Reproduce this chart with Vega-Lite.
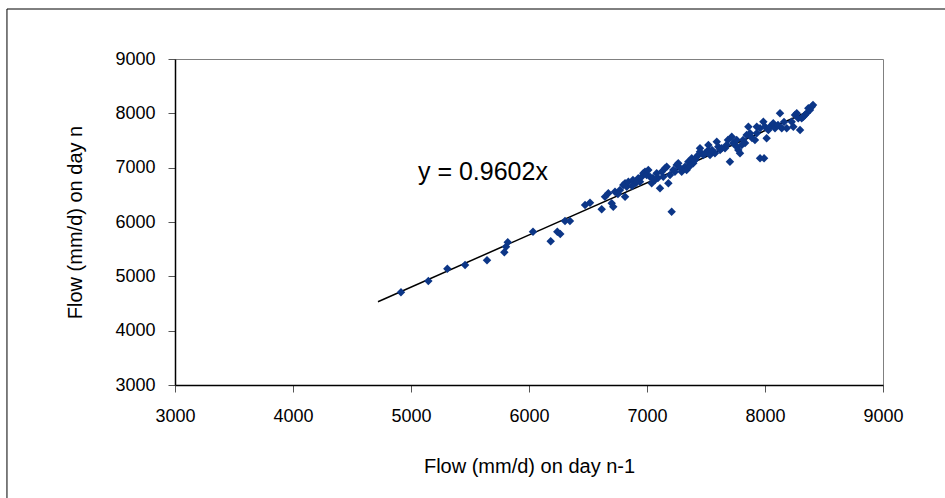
{
  "$schema": "https://vega.github.io/schema/vega-lite/v6.json",
  "width": 708,
  "height": 326,
  "autosize": "none",
  "padding": {"left": 175, "top": 59, "right": 62, "bottom": 113},
  "background": "white",
  "config": {
    "font": "Liberation Sans",
    "view": {"stroke": "#808080", "strokeWidth": 1},
    "axis": {
      "grid": false,
      "domainColor": "black",
      "domainWidth": 1.5,
      "tickColor": "#555555",
      "tickSize": 7,
      "labelFont": "Liberation Sans",
      "labelFontSize": 18,
      "labelColor": "black",
      "labelFlush": false,
      "titleFont": "Liberation Sans",
      "titleFontSize": 20,
      "titleFontWeight": "normal",
      "titleColor": "black"
    }
  },
  "datasets": {
    "obs": [
      {"prev": 4915, "curr": 4706}, {"prev": 5147, "curr": 4914}, {"prev": 5308, "curr": 5141}, {"prev": 5458, "curr": 5209},
      {"prev": 5644, "curr": 5295}, {"prev": 5791, "curr": 5442}, {"prev": 5805, "curr": 5545}, {"prev": 5820, "curr": 5626},
      {"prev": 6034, "curr": 5822}, {"prev": 6184, "curr": 5645}, {"prev": 6240, "curr": 5822}, {"prev": 6265, "curr": 5779},
      {"prev": 6305, "curr": 6018}, {"prev": 6347, "curr": 6018}, {"prev": 6475, "curr": 6313}, {"prev": 6517, "curr": 6355},
      {"prev": 6616, "curr": 6234}, {"prev": 6644, "curr": 6466}, {"prev": 6672, "curr": 6528}, {"prev": 6701, "curr": 6344},
      {"prev": 6714, "curr": 6282}, {"prev": 6729, "curr": 6558}, {"prev": 6771, "curr": 6589}, {"prev": 6799, "curr": 6681},
      {"prev": 6814, "curr": 6712}, {"prev": 6828, "curr": 6650}, {"prev": 6814, "curr": 6466}, {"prev": 6842, "curr": 6742},
      {"prev": 6926, "curr": 6804}, {"prev": 6941, "curr": 6742}, {"prev": 6955, "curr": 6834}, {"prev": 6969, "curr": 6896},
      {"prev": 6983, "curr": 6926}, {"prev": 6997, "curr": 6865}, {"prev": 7011, "curr": 6957}, {"prev": 7025, "curr": 6834},
      {"prev": 7040, "curr": 6712}, {"prev": 7068, "curr": 6773}, {"prev": 7082, "curr": 6896}, {"prev": 7110, "curr": 6620},
      {"prev": 7125, "curr": 6926}, {"prev": 7138, "curr": 6834}, {"prev": 7153, "curr": 6988}, {"prev": 7167, "curr": 7018},
      {"prev": 7181, "curr": 6712}, {"prev": 7195, "curr": 6865}, {"prev": 7209, "curr": 6190}, {"prev": 7237, "curr": 6926},
      {"prev": 7252, "curr": 7049}, {"prev": 7265, "curr": 7080}, {"prev": 7223, "curr": 6957}, {"prev": 7294, "curr": 6926},
      {"prev": 7322, "curr": 7018}, {"prev": 7336, "curr": 6957}, {"prev": 7350, "curr": 7110}, {"prev": 7379, "curr": 7172},
      {"prev": 7392, "curr": 7080}, {"prev": 7421, "curr": 7202}, {"prev": 7435, "curr": 7233}, {"prev": 7449, "curr": 7294},
      {"prev": 7449, "curr": 7356}, {"prev": 7477, "curr": 7233}, {"prev": 7492, "curr": 7264}, {"prev": 7520, "curr": 7417},
      {"prev": 7520, "curr": 7325}, {"prev": 7534, "curr": 7233}, {"prev": 7576, "curr": 7264}, {"prev": 7591, "curr": 7478},
      {"prev": 7604, "curr": 7386}, {"prev": 7619, "curr": 7325}, {"prev": 7633, "curr": 7356}, {"prev": 7661, "curr": 7356},
      {"prev": 7675, "curr": 7417}, {"prev": 7703, "curr": 7110}, {"prev": 7718, "curr": 7570}, {"prev": 7731, "curr": 7449},
      {"prev": 7760, "curr": 7386}, {"prev": 7760, "curr": 7509}, {"prev": 7774, "curr": 7325}, {"prev": 7788, "curr": 7264},
      {"prev": 7803, "curr": 7417}, {"prev": 7845, "curr": 7601}, {"prev": 7859, "curr": 7754}, {"prev": 7873, "curr": 7633},
      {"prev": 7915, "curr": 7509}, {"prev": 7930, "curr": 7754}, {"prev": 7930, "curr": 7633}, {"prev": 7958, "curr": 7724},
      {"prev": 7958, "curr": 7172}, {"prev": 7992, "curr": 7172}, {"prev": 7986, "curr": 7846}, {"prev": 8000, "curr": 7754},
      {"prev": 8014, "curr": 7541}, {"prev": 8028, "curr": 7693}, {"prev": 8042, "curr": 7754}, {"prev": 8070, "curr": 7817},
      {"prev": 8085, "curr": 7724}, {"prev": 8127, "curr": 8001}, {"prev": 8142, "curr": 7724}, {"prev": 8184, "curr": 7724},
      {"prev": 8226, "curr": 7846}, {"prev": 8240, "curr": 7754}, {"prev": 8254, "curr": 7969}, {"prev": 8269, "curr": 8001},
      {"prev": 8282, "curr": 7909}, {"prev": 8297, "curr": 7693}, {"prev": 8311, "curr": 7909}, {"prev": 8325, "curr": 7938},
      {"prev": 8339, "curr": 7969}, {"prev": 8353, "curr": 8001}, {"prev": 8367, "curr": 8093}, {"prev": 8381, "curr": 8061},
      {"prev": 8396, "curr": 8122}, {"prev": 8407, "curr": 8153}, {"prev": 6881, "curr": 6773}, {"prev": 6907, "curr": 6718},
      {"prev": 7093, "curr": 6810}, {"prev": 7280, "curr": 6994}, {"prev": 7364, "curr": 7031}, {"prev": 7551, "curr": 7325},
      {"prev": 7686, "curr": 7509}, {"prev": 7814, "curr": 7509}, {"prev": 7890, "curr": 7546}, {"prev": 7831, "curr": 7454},
      {"prev": 8110, "curr": 7785}, {"prev": 8161, "curr": 7841}, {"prev": 6754, "curr": 6515}, {"prev": 6873, "curr": 6663},
      {"prev": 7051, "curr": 6810}, {"prev": 7407, "curr": 7141}
    ],
    "trend": [
      {"prev": 4720, "curr": 4532},
      {"prev": 8400, "curr": 8066}
    ]
  },
  "layer": [
    {
      "data": {"values": [{}]},
      "mark": {"type": "rect", "filled": false, "stroke": "black", "strokeWidth": 1, "clip": false},
      "encoding": {
        "x": {"datum": 1576, "type": "quantitative", "scale": {"domain": [3000, 9000], "nice": false, "zero": false}},
        "x2": {"datum": 12000},
        "y": {"datum": 9920, "type": "quantitative", "scale": {"domain": [3000, 9000], "nice": false, "zero": false}},
        "y2": {"datum": -1000}
      }
    },
    {
      "data": {"name": "trend"},
      "mark": {"type": "line", "color": "black", "strokeWidth": 1.5},
      "encoding": {
        "x": {"field": "prev", "type": "quantitative"},
        "y": {"field": "curr", "type": "quantitative"}
      }
    },
    {
      "data": {"name": "obs"},
      "mark": {"type": "point", "shape": "diamond", "filled": true, "size": 72, "opacity": 1, "color": "#0c3687"},
      "encoding": {
        "x": {
          "field": "prev", "type": "quantitative",
          "axis": {"title": "Flow (mm/d) on day n-1", "values": [3000, 4000, 5000, 6000, 7000, 8000, 9000], "labelPadding": 15, "titlePadding": 31, "format": "d"}
        },
        "y": {
          "field": "curr", "type": "quantitative",
          "axis": {"title": "Flow (mm/d) on day n", "values": [3000, 4000, 5000, 6000, 7000, 8000, 9000], "labelPadding": 13, "titlePadding": 29, "format": "d"}
        }
      }
    },
    {
      "data": {"values": [{}]},
      "mark": {"type": "text", "text": "y = 0.9602x", "align": "left", "baseline": "middle", "fontSize": 25, "font": "Liberation Sans", "color": "black"},
      "encoding": {
        "x": {"datum": 5059, "type": "quantitative"},
        "y": {"datum": 6920, "type": "quantitative"}
      }
    }
  ]
}
